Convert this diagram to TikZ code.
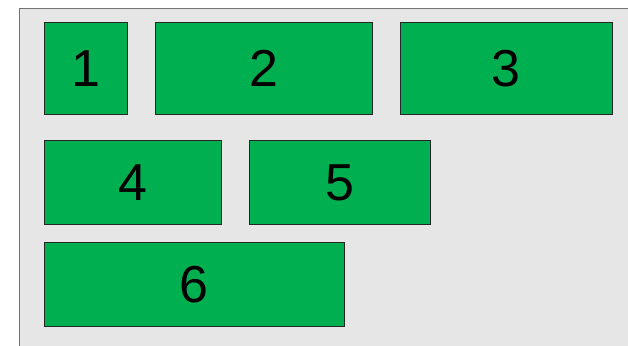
\documentclass[tikz,border=0pt]{standalone}
\usepackage{fontspec}
\setmainfont{Liberation Sans}
\usetikzlibrary{positioning}

\definecolor{panelgray}{RGB}{230,230,230}
\definecolor{blockgreen}{RGB}{0,176,80}

\begin{document}
\begin{tikzpicture}[
    x=1pt, y=-1pt,
    panel/.style={draw=black!55, fill=panelgray, line width=0.9pt},
    blk/.style={draw=black!85, fill=blockgreen, line width=0.8pt, inner sep=0pt,
        minimum height=91.5pt, font=\fontsize{52}{60}\selectfont}
]

    % Marco de la imagen
    \useasboundingbox (0,0) rectangle (628,345);
    \clip (0,0) rectangle (628,345);
    \draw[panel] (19,8) rectangle (650,360);

    % Primera fila
    \node[blk, minimum width=83.5pt] (b1) at (86,68.5) {1};
    \node[blk, minimum width=217pt] (b2) at (263.5,68.5) {2};
    \node[blk, minimum width=212pt] (b3) at (506,68.5) {3};

    % Segunda fila
    \node[blk, minimum width=177pt, minimum height=84pt] (b4) at (133,182.4) {4};
    \node[blk, minimum width=181.4pt, minimum height=84pt] (b5) at (340,182.4) {5};

    % Tercera fila
    \node[blk, minimum width=300pt, minimum height=84pt] (b6) at (194.3,284.7) {6};

\end{tikzpicture}
\end{document}
